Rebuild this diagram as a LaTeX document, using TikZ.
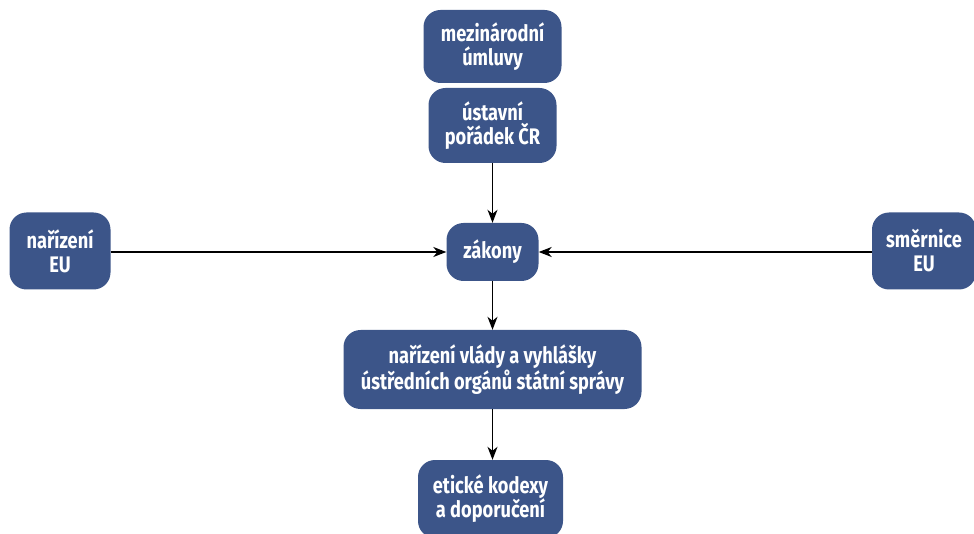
\documentclass[tikz,border=0pt]{standalone}
\usepackage{fontspec}
\setmainfont{Fira Sans}[FakeStretch=0.81, BoldFont={Fira Sans Bold}]
\usetikzlibrary{arrows.meta}
\definecolor{boxblue}{HTML}{3C5589}
\tikzset{
  box/.style={draw=none, fill=boxblue, rounded corners=17pt, text=white,
    font=\bfseries\fontsize{22.5}{24}\selectfont, align=center,
    inner sep=0pt, anchor=center},
  conn/.style={line width=1.3pt, -{Stealth[length=13pt,width=10pt,inset=4pt]}}
}
\begin{document}
\begin{tikzpicture}[x=1pt,y=-1pt]
\useasboundingbox (0,0) rectangle (974,534);
\clip (0,0) rectangle (974,534);
\node[box, minimum width=138pt, minimum height=73pt] (mu) at (492.5,46.5) {mezinárodní\\úmluvy};
\node[box, minimum width=128pt, minimum height=75pt] (up) at (492.5,125.5) {ústavní\\pořádek ČR};
\node[box, minimum width=92pt, minimum height=58pt] (za) at (492.5,252) {zákony};
\node[box, minimum width=101pt, minimum height=77pt] (ne) at (60,251) {nařízení\\EU};
\node[box, minimum width=104pt, minimum height=77pt] (se) at (924,251) {směrnice\\EU};
\node[box, minimum width=298pt, minimum height=79pt] (nv) at (492.5,369.5) {nařízení vlády a vyhlášky\\ústředních orgánů státní správy};
\node[box, minimum width=145pt, minimum height=78pt] (ek) at (490.5,499) {etické kodexy\\a doporučení};
\draw[conn] (ne.east |- za.west) -- (za.west);
\draw[conn] (se.west |- za.east) -- (za.east);
\draw[conn] (up.south) -- (za.north);
\draw[conn] (za.south) -- (nv.north);
\draw[conn] (nv.south) -- (nv.south |- ek.north);
\end{tikzpicture}
\end{document}
